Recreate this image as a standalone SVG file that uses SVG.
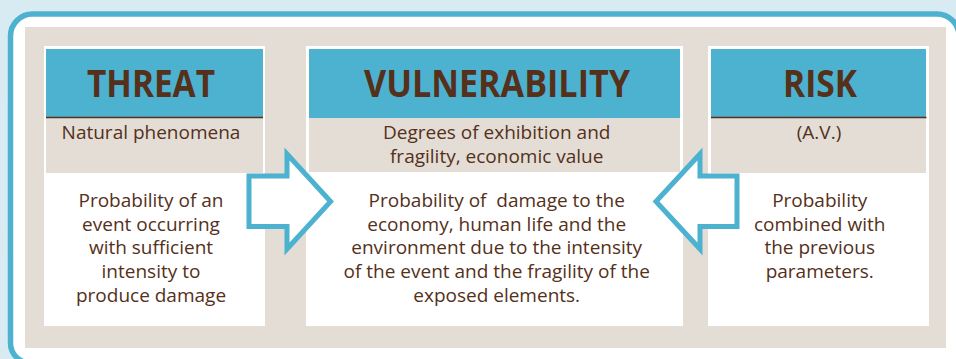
<svg xmlns="http://www.w3.org/2000/svg" width="956" height="359" viewBox="0 0 956 359">
  <style>
    .head { fill: #4db2cf; }
    .sub { fill: #e3ddd6; }
    .card { fill: #ffffff; }
    .rule { stroke: #55301a; stroke-width: 1.6; }
    .title { font-family: "Open Sans", "Liberation Sans", sans-serif; font-weight: 700; font-size: 37px; fill: #55301a; text-anchor: middle; }
    .txt { font-family: "Open Sans", "Liberation Sans", sans-serif; font-size: 19px; fill: #55301a; text-anchor: middle; }
    .arrow { fill: #ffffff; stroke: #4db2cf; stroke-width: 5; stroke-linejoin: miter; stroke-miterlimit: 10; }
  </style>

  <!-- page background and framed panel (frame runs past the right and bottom edges) -->
  <rect x="0" y="0" width="956" height="359" fill="#d8ebf3"/>
  <path d="M32.5,14 H937 A22,22 0 0 1 959,36 V363 H30.5 A20,20 0 0 1 10.5,343 V36 A22,22 0 0 1 32.5,14 Z" fill="#ffffff" stroke="#4db2cf" stroke-width="5.5"/>
  <rect x="25" y="27" width="921" height="321" fill="#e3ddd6"/>

  <!-- THREAT -->
  <g id="threat">
    <rect class="card" x="44" y="46" width="221" height="280"/>
    <rect class="head" x="46" y="49" width="217" height="68"/>
    <rect class="sub" x="46" y="117" width="217" height="56"/>
    <line class="rule" x1="46" y1="117.5" x2="263" y2="117.5"/>
    <text class="title" x="151" y="97" textLength="128" lengthAdjust="spacingAndGlyphs">THREAT</text>
    <text class="txt" x="151" y="139">Natural phenomena</text>
    <text class="txt" x="151" y="206.7">Probability of an</text>
    <text class="txt" x="151" y="230.5">event occurring</text>
    <text class="txt" x="151" y="254.3">with sufficient</text>
    <text class="txt" x="151" y="278">intensity to</text>
    <text class="txt" x="151" y="301.7">produce damage</text>
  </g>

  <!-- VULNERABILITY -->
  <g id="vulnerability">
    <rect class="card" x="306" y="46" width="377" height="280"/>
    <rect class="head" x="309" y="49" width="371" height="69"/>
    <rect class="sub" x="309" y="118" width="371" height="54"/>
    <text class="title" x="497" y="97" textLength="266" lengthAdjust="spacingAndGlyphs">VULNERABILITY</text>
    <text class="txt" x="496.7" y="139">Degrees of exhibition and</text>
    <text class="txt" x="496.7" y="163">fragility, economic value</text>
    <text class="txt" x="496.7" y="206.7" xml:space="preserve">Probability of  damage to the</text>
    <text class="txt" x="496.7" y="230.5">economy, human life and the</text>
    <text class="txt" x="496.7" y="254.3">environment due to the intensity</text>
    <text class="txt" x="496.7" y="278">of the event and the fragility of the</text>
    <text class="txt" x="496.7" y="301.7">exposed elements.</text>
  </g>

  <!-- RISK -->
  <g id="risk">
    <rect class="card" x="708" y="46" width="221" height="280"/>
    <rect class="head" x="711" y="49" width="215" height="68"/>
    <rect class="sub" x="711" y="117" width="215" height="56"/>
    <line class="rule" x1="711" y1="117.5" x2="926.5" y2="117.5"/>
    <text class="title" x="820" y="97" textLength="74" lengthAdjust="spacingAndGlyphs">RISK</text>
    <text class="txt" x="819" y="139">(A.V.)</text>
    <text class="txt" x="819.7" y="206.7">Probability</text>
    <text class="txt" x="819.7" y="230.5">combined with</text>
    <text class="txt" x="819.7" y="254.3">the previous</text>
    <text class="txt" x="819.7" y="278">parameters.</text>
  </g>

  <!-- block arrows pointing into the centre column -->
  <g id="connectors">
    <path class="arrow" d="M249,176 H287 V154 L330.6,201.5 L287,249 V226.5 H249 Z"/>
    <path class="arrow" d="M737,176 H700 V154 L656,201.5 L700,249 V226.5 H737 Z"/>
  </g>
</svg>
